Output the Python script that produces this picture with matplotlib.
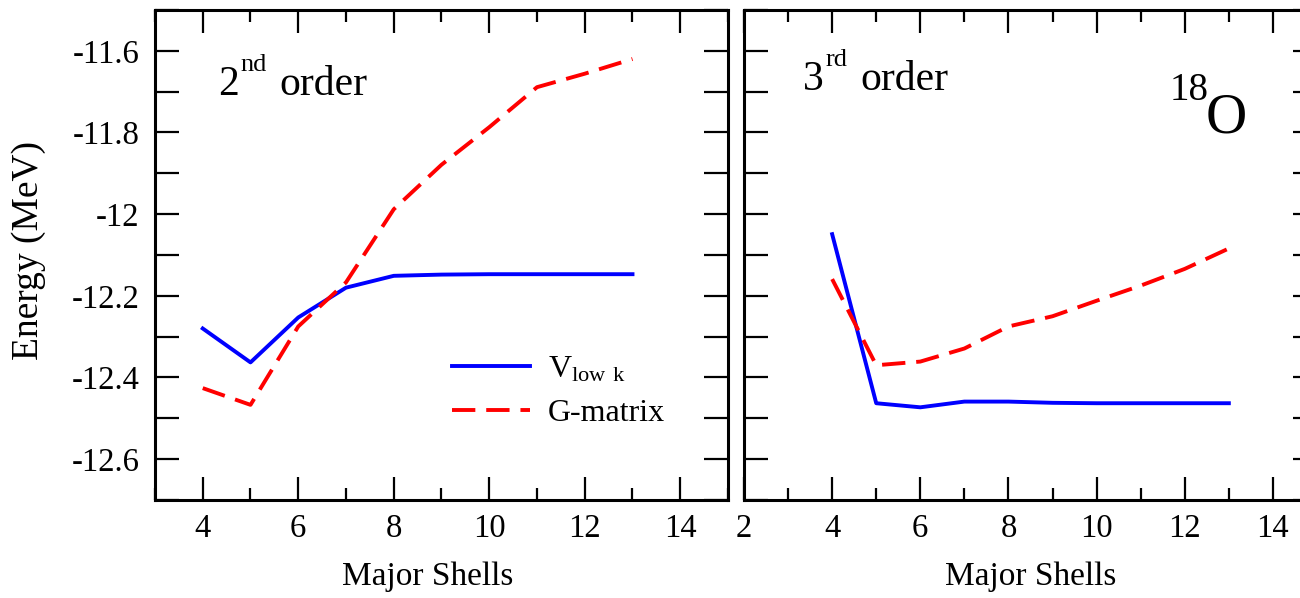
import matplotlib
matplotlib.use("Agg")
import matplotlib.pyplot as plt
from matplotlib.ticker import MultipleLocator, FuncFormatter

plt.rcParams['font.family'] = ['Liberation Serif', 'DejaVu Serif']
plt.rcParams['mathtext.fontset'] = 'custom'
plt.rcParams['mathtext.rm'] = 'Liberation Serif'
plt.rcParams['axes.unicode_minus'] = False

# major shells included in the model space
shells = [4, 5, 6, 7, 8, 9, 10, 11, 12, 13]

# 18O ground state energy (MeV), 2nd order
vlowk_2nd = [-12.280, -12.363, -12.253, -12.180, -12.151, -12.148, -12.147, -12.147, -12.147, -12.147]
gmat_2nd = [-12.426, -12.467, -12.275, -12.167, -11.988, -11.879, -11.787, -11.689, -11.656, -11.620]

# 3rd order
vlowk_3rd = [-12.049, -12.463, -12.473, -12.459, -12.459, -12.462, -12.463, -12.463, -12.463, -12.463]
gmat_3rd = [-12.159, -12.370, -12.361, -12.329, -12.275, -12.250, -12.212, -12.175, -12.134, -12.084]

W, H = 1300, 598
fig = plt.figure(figsize=(W / 100, H / 100), dpi=100)

# panel boxes in pixels; the right panel runs off the right edge
ax1 = fig.add_axes([155 / W, (H - 500) / H, 573 / W, 490 / H])
ax2 = fig.add_axes([744 / W, (H - 500) / H, 573 / W, 490 / H])

lw = 2.8
dash = (6.0, 2.8)

for ax, vl, gm, xmin in [(ax1, vlowk_2nd, gmat_2nd, 3), (ax2, vlowk_3rd, gmat_3rd, 2)]:
    ax.plot(shells, vl, color='#0000ff', lw=lw, label=r'$\mathregular{V_{low\ k}}$')
    ax.plot(shells, gm, color='#ff0000', lw=lw, ls=(0, dash), label='G-matrix')
    ax.set_xlim(xmin, 15)
    ax.set_ylim(-12.7, -11.5)
    ax.xaxis.set_major_locator(MultipleLocator(2))
    ax.xaxis.set_minor_locator(MultipleLocator(1))
    ax.yaxis.set_major_locator(MultipleLocator(0.2))
    ax.yaxis.set_minor_locator(MultipleLocator(0.1))
    ax.tick_params(which='both', direction='in', top=True, right=True, width=1.6, labelsize=23.5)
    ax.tick_params(axis='x', which='major', length=16.5, pad=10)
    ax.tick_params(axis='x', which='minor', length=8.6)
    ax.tick_params(axis='y', which='both', length=17, pad=11)
    for s in ax.spines.values():
        s.set_linewidth(2.2)
    ax.set_xlabel('Major Shells', fontsize=24, va='top')

ax1.xaxis.set_label_coords(0.476, -0.125)
ax2.xaxis.set_label_coords(0.5, -0.125)

ax1.yaxis.set_major_formatter(FuncFormatter(lambda v, p: '%g' % round(v, 2)))
ax2.tick_params(axis='y', labelleft=False)
ax1.set_ylabel('Energy (MeV)', fontsize=27)
ax1.yaxis.set_label_coords(-0.19, 0.51)


def order_label(ax, x, y, num, sup):
    base = ax.text(x, y, num, transform=ax.transAxes, fontsize=30, va='baseline', ha='left')
    hi = ax.annotate(sup, xy=(1, 1), xycoords=base, xytext=(1.5, 8.5),
                     textcoords='offset points', fontsize=19, va='top', ha='left')
    ax.annotate('order', xy=(1, 0), xycoords=(hi, base), xytext=(9, 0),
                textcoords='offset points', fontsize=30, va='bottom', ha='left')


order_label(ax1, 0.110, 0.8265, '2', 'nd')
order_label(ax2, 0.103, 0.8367, '3', 'rd')

ax2.text(0.806, 0.751, 'O', transform=ax2.transAxes, fontsize=41, va='baseline', ha='left')
ax2.text(0.743, 0.873, '18', transform=ax2.transAxes, fontsize=28, va='top', ha='left')

ax1.legend(loc='center left', bbox_to_anchor=(0.518, 0.222), frameon=False,
           fontsize=23, handlelength=2.45, handletextpad=0.55, labelspacing=0.45,
           borderpad=0, borderaxespad=0)

fig.savefig('out.png', dpi=100)
